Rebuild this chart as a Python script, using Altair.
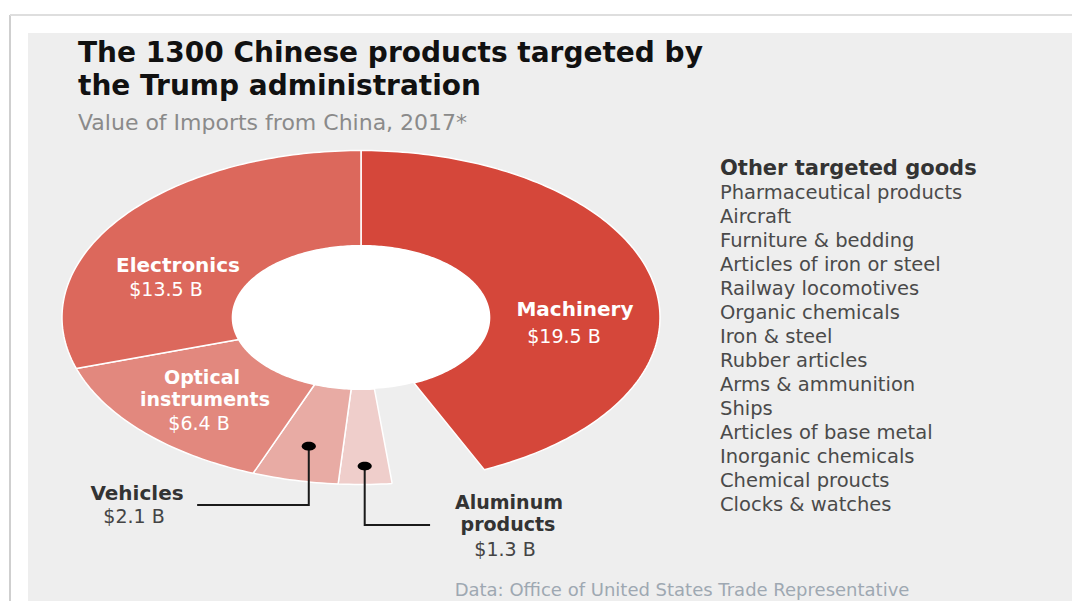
import math
import pandas as pd
import altair as alt

# ---------------- data ----------------
categories = ["Machinery", "Other targeted goods", "Aluminum products",
              "Vehicles", "Optical instruments", "Electronics"]
values = [19.5, 2.3, 1.3, 2.1, 6.4, 13.5]   # $ billions, clockwise from 12 o'clock

other_goods = [
    "Pharmaceutical products", "Aircraft", "Furniture & bedding",
    "Articles of iron or steel", "Railway locomotives", "Organic chemicals",
    "Iron & steel", "Rubber articles", "Arms & ammunition", "Ships",
    "Articles of base metal", "Inorganic chemicals", "Chemical proucts",
    "Clocks & watches",
]

# ---------------- styling ----------------
FONT = "DejaVu Sans"
drawn = ["Machinery", "Aluminum products", "Vehicles", "Optical instruments", "Electronics"]
palette = ["#d5473a", "#efcecb", "#e8aba4", "#e2887e", "#dc685c"]
R_OUT, R_IN = 1.0, 0.43
PX, PY = 28, 33          # page position of the plot area
W, H = 1044, 568

# ---------------- geometry from the values ----------------
total = sum(values)
poly, mids = [], {}
cum = 0.0
for cat, v in zip(categories, values):
    a0 = cum / total * 2 * math.pi
    cum += v
    a1 = cum / total * 2 * math.pi
    mids[cat] = (a0 + a1) / 2
    if cat not in drawn:
        continue
    n = max(6, int(math.degrees(a1 - a0)))
    pts = []
    for k in range(n + 1):
        t = a0 + (a1 - a0) * k / n
        pts.append((math.sin(t) * R_OUT, math.cos(t) * R_OUT))
    for k in range(n, -1, -1):
        t = a0 + (a1 - a0) * k / n
        pts.append((math.sin(t) * R_IN, math.cos(t) * R_IN))
    pts.append(pts[0])
    for i, (x, y) in enumerate(pts):
        poly.append({"category": cat, "i": i, "x": x, "y": y})
poly_df = pd.DataFrame(poly)

hole_df = pd.DataFrame([
    {"i": k, "x": math.sin(2 * math.pi * k / 180) * R_IN, "y": math.cos(2 * math.pi * k / 180) * R_IN}
    for k in range(181)
])

xs = alt.Scale(domain=[-1, 1], range=[361 - 299 - PX, 361 + 299 - PX], nice=False, zero=False)
ys = alt.Scale(domain=[-1, 1], range=[317.5 + 167 - PY, 317.5 - 167 - PY], nice=False, zero=False)

slices = alt.Chart(poly_df).mark_line(
    filled=True, stroke="white", strokeWidth=1.5, strokeJoin="round"
).encode(
    x=alt.X("x:Q", scale=xs, axis=None),
    y=alt.Y("y:Q", scale=ys, axis=None),
    color=alt.Color("category:N", scale=alt.Scale(domain=drawn, range=palette), legend=None),
    detail="category:N",
    order="i:Q",
)

hole = alt.Chart(hole_df).mark_line(filled=True, color="white", strokeWidth=0).encode(
    x=alt.X("x:Q", scale=xs, axis=None),
    y=alt.Y("y:Q", scale=ys, axis=None),
    order="i:Q",
)

# callouts for the two small slices
callout_spec = {"Vehicles": (0.79, -1.123, -0.548), "Aluminum products": (0.89, -1.243, 0.231)}
call_rows, dot_rows = [], []
for cat, (r, ye, xe) in callout_spec.items():
    a = mids[cat]
    dx, dy = math.sin(a) * r, math.cos(a) * r
    dot_rows.append({"category": cat, "x": dx, "y": dy})
    for i, (x, y) in enumerate([(dx, dy), (dx, ye), (xe, ye)]):
        call_rows.append({"category": cat, "i": i, "x": x, "y": y})

callout_lines = alt.Chart(pd.DataFrame(call_rows)).mark_line(color="#1a1a1a", strokeWidth=2).encode(
    x=alt.X("x:Q", scale=xs, axis=None),
    y=alt.Y("y:Q", scale=ys, axis=None),
    detail="category:N",
    order="i:Q",
)
ellipse_shape = "M-1,0A1,0.62 0 1,0 1,0A1,0.62 0 1,0 -1,0Z"
dots = alt.Chart(pd.DataFrame(dot_rows)).mark_point(
    shape=ellipse_shape, filled=True, color="#000000", size=200, opacity=1
).encode(
    x=alt.X("x:Q", scale=xs, axis=None),
    y=alt.Y("y:Q", scale=ys, axis=None),
)


def txt(s, x, y, size, weight="normal", color="#444444", align="left"):
    return alt.Chart(alt.Data(values=[{}])).mark_text(
        text=s, font=FONT, fontSize=size, fontWeight=weight, color=color,
        align=align, baseline="alphabetic",
    ).encode(x=alt.value(x - PX), y=alt.value(y - PY))


def money(cat):
    return f"${values[categories.index(cat)]} B"


LB, LV = 19, 19
texts = [
    txt("The 1300 Chinese products targeted by", 78, 62, 28, "bold", "#111111"),
    txt("the Trump administration", 78, 95, 28, "bold", "#111111"),
    txt("Value of Imports from China, 2017*", 78, 130, 22, "normal", "#8a8a8a"),
    # slice labels
    txt("Machinery", 575, 316, 20, "bold", "white", "center"),
    txt(money("Machinery"), 564, 343, LV, "normal", "white", "center"),
    txt("Electronics", 178, 272, 20, "bold", "white", "center"),
    txt(money("Electronics"), 166, 296, LV, "normal", "white", "center"),
    txt("Optical", 202, 384, LB, "bold", "white", "center"),
    txt("instruments", 205, 406.3, LB, "bold", "white", "center"),
    txt(money("Optical instruments"), 199, 429.5, LV, "normal", "white", "center"),
    txt("Vehicles", 137, 500, 20, "bold", "#333333", "center"),
    txt(money("Vehicles"), 134, 523, LV, "normal", "#444444", "center"),
    txt("Aluminum", 509, 509, LB, "bold", "#333333", "center"),
    txt("products", 508, 531.3, LB, "bold", "#333333", "center"),
    txt(money("Aluminum products"), 505, 555.5, LV, "normal", "#444444", "center"),
    # right list
    txt("Other targeted goods", 720, 175, 21, "bold", "#333333"),
    txt("Data: Office of United States Trade Representative", 682, 596, 18, "normal", "#9ea8b2", "center"),
]
for k, g in enumerate(other_goods):
    texts.append(txt(g, 720, 199 + 24 * k, 19.5, "normal", "#4a4a4a"))

frame = [
    alt.Chart(alt.Data(values=[{}])).mark_rule(color="#cfcfcf", strokeWidth=2, clip=False).encode(
        x=alt.value(10 - PX), y=alt.value(15 - PY), y2=alt.value(H + 20)),
    alt.Chart(alt.Data(values=[{}])).mark_rule(color="#dedede", strokeWidth=2, clip=False).encode(
        x=alt.value(10 - PX), x2=alt.value(W + 30), y=alt.value(15 - PY)),
]

chart = alt.layer(*frame, slices, hole, callout_lines, dots, *texts).properties(
    width=W, height=H, background="white", autosize="none",
    padding={"left": PX - 8, "top": PY - 8, "right": 0, "bottom": 0},
).configure_view(fill="#eeeeee", strokeWidth=0)

chart.save("out.html", embed_options={"renderer": "svg", "actions": False})
